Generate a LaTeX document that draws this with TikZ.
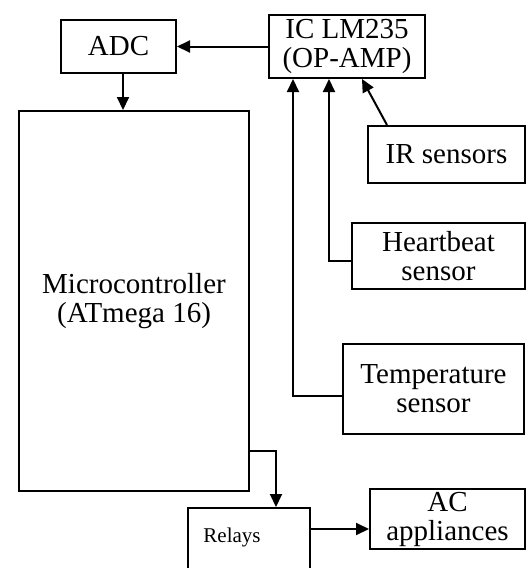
\documentclass[tikz,border=0pt]{standalone}
\usepackage{fontspec}
\setmainfont{Liberation Serif}
\usetikzlibrary{arrows.meta}
\begin{document}
\begin{tikzpicture}[x=1pt,y=-1pt,
  blk/.style={draw, line width=2pt, inner sep=0pt, anchor=north west, align=center,
    font=\fontsize{29}{29}\selectfont},
  arr/.style={line width=2pt, -{Triangle[length=13pt,width=12pt]}}]
\clip (0,0) rectangle (526,568);
\fill[white] (0,0) rectangle (526,568);
\node[blk, minimum width=115pt, minimum height=53pt] (adc) at (60,19) {ADC};
\node[blk, minimum width=156pt, minimum height=63pt] (ic) at (268,14) {IC LM235\\(OP-AMP)};
\node[blk, minimum width=230pt, minimum height=380pt] (micro) at (18,110) {Microcontroller\\(ATmega 16)};
\node[blk, minimum width=157pt, minimum height=57pt] (ir) at (367,125) {IR sensors};
\node[blk, minimum width=173pt, minimum height=66pt] (hb) at (351,222) {Heartbeat\\sensor};
\node[blk, minimum width=181pt, minimum height=90pt] (temp) at (342,343) {Temperature\\sensor};
\node[blk, minimum width=155pt, minimum height=60pt] (ac) at (369,488) {AC\\appliances};
\node[blk, minimum width=122pt, minimum height=90pt] (relays) at (187,507) {};
\node[font=\fontsize{21}{24}\selectfont] (relaystext) at (232,537) {Relays};
\draw[arr] (ic.west) -- (adc.east);
\draw[arr] ([xshift=4.5pt]adc.south) -- ([xshift=4.5pt]adc.south |- micro.north);
\draw[arr] ([yshift=-150pt]micro.east) -| ([xshift=27pt]relays.north);
\draw[arr] ([yshift=-10pt]relays.east |- ac.west) -- ([yshift=-10pt]ac.west);
\draw[arr] ([xshift=20pt]ir.north west) -- ([xshift=15pt]ic.south);
\draw[arr] ([yshift=-5pt]hb.west) -| ([xshift=-18pt]ic.south);
\draw[arr] ([yshift=-7pt]temp.west) -| ([xshift=-54pt]ic.south);
\end{tikzpicture}
\end{document}
